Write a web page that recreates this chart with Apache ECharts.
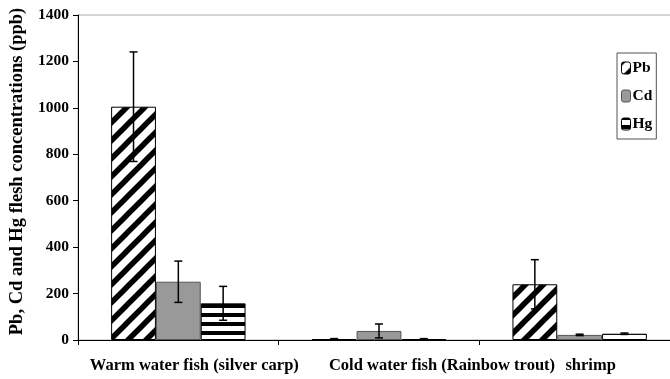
<!DOCTYPE html>
<html>
<head>
<meta charset="utf-8">
<script src="https://cdn.jsdelivr.net/npm/echarts@6/dist/echarts.min.js"></script>
<style>html,body{margin:0;padding:0;background:#fff}#c{width:670px;height:379px}</style>
</head>
<body>
<div id="c"></div>
<script>
var categories = ['Warm water fish (silver carp)', 'Cold water fish (Rainbow trout)', 'shrimp'];
var seriesNames = ['Pb', 'Cd', 'Hg'];
var pbValues = [1005, 4, 240];
var cdValues = [251, 39, 22];
var hgValues = [158, 4, 27];
var pbErrors = [236, 2, 106];
var cdErrors = [89, 30, 3];
var hgErrors = [73, 2, 3];
var yTicks = [0, 200, 400, 600, 800, 1000, 1200, 1400];

var FONT = 'Liberation Serif';

function diagPattern() {
  var s = 18, c = document.createElement('canvas');
  c.width = s; c.height = s;
  var g = c.getContext('2d');
  g.fillStyle = '#fff'; g.fillRect(0, 0, s, s);
  g.strokeStyle = '#000'; g.lineWidth = 5.5;
  for (var k = -1; k <= 1; k++) {
    g.beginPath(); g.moveTo(k * s - s, 2 * s); g.lineTo(k * s + 2 * s, -s); g.stroke();
  }
  return c;
}
function horizPattern() {
  var c = document.createElement('canvas');
  c.width = 4; c.height = 9;
  var g = c.getContext('2d');
  g.fillStyle = '#fff'; g.fillRect(0, 0, 4, 9);
  g.fillStyle = '#000'; g.fillRect(0, 0, 4, 2); g.fillRect(0, 7, 4, 2);
  return c;
}

var values = [pbValues, cdValues, hgValues];
var errors = [pbErrors, cdErrors, hgErrors];
var fills = [
  { image: diagPattern(), repeat: 'repeat' },
  '#999999',
  { image: horizPattern(), repeat: 'repeat' }
];
var borders = ['#000', '#555', '#000'];

var GAP = 0.33;
var series = [];
seriesNames.forEach(function (name, i) {
  series.push({
    name: name,
    type: 'bar',
    data: values[i],
    barGap: '0%',
    barCategoryGap: (GAP * 100) + '%',
    itemStyle: { color: fills[i], borderColor: borders[i], borderWidth: 1 },
    z: 2
  });
});
seriesNames.forEach(function (name, i) {
  series.push({
    type: 'custom',
    name: name + ' error',
    z: 5,
    silent: true,
    data: values[i].map(function (v, j) { return [j, v, errors[i][j]]; }),
    renderItem: function (params, api) {
      var cat = api.value(0), mean = api.value(1), err = api.value(2);
      var band = api.size([1, 0])[0];
      var barW = band * (1 - GAP) / 3;
      var c = api.coord([cat, mean]);
      var x = c[0] + (i - 1) * barW;
      var top = api.coord([cat, mean + err])[1];
      var bot = api.coord([cat, Math.max(0, mean - err)])[1];
      var cap = 4;
      var st = { stroke: '#000', lineWidth: 1.5 };
      return {
        type: 'group',
        children: [
          { type: 'line', shape: { x1: x, y1: top, x2: x, y2: bot }, style: st },
          { type: 'line', shape: { x1: x - cap, y1: top, x2: x + cap, y2: top }, style: st },
          { type: 'line', shape: { x1: x - cap, y1: bot, x2: x + cap, y2: bot }, style: st }
        ]
      };
    }
  });
});

var labelShift = [32, 126, 22];
var chart = echarts.init(document.getElementById('c'), null, { renderer: 'canvas' });
chart.setOption({
  animation: false,
  backgroundColor: '#fff',
  grid: { left: 78, top: 15, right: -10, bottom: 39, outerBoundsMode: 'none', containLabel: false, show: true, borderColor: '#aaa', borderWidth: 1, backgroundColor: 'transparent' },
  legend: {
    data: seriesNames,
    orient: 'vertical',
    left: 617, top: 53,
    borderColor: '#555', borderWidth: 1,
    padding: [7, 4, 7, 4],
    itemGap: 12,
    itemWidth: 9, itemHeight: 12,
    itemStyle: { borderWidth: 1 },
    textStyle: { fontFamily: FONT, fontWeight: 'bold', fontSize: 15.5, color: '#000', padding: [0, 0, 0, -3] }
  },
  xAxis: {
    type: 'category',
    data: categories.map(function (c, i) {
      return { value: c, textStyle: { padding: [0, 0, 0, labelShift[i]] } };
    }),
    axisLine: { lineStyle: { color: '#000', width: 1 } },
    axisTick: { show: true, length: 5, inside: false, lineStyle: { color: '#000' } },
    axisLabel: { interval: 0, margin: 17, fontFamily: FONT, fontWeight: 'bold', fontSize: 16.5, color: '#000' },
    splitLine: { show: false }
  },
  yAxis: {
    type: 'value',
    min: yTicks[0], max: yTicks[yTicks.length - 1], interval: 200,
    name: 'Pb, Cd and Hg flesh concentrations (ppb)',
    nameLocation: 'middle', nameGap: 41,
    nameTextStyle: { fontFamily: FONT, fontWeight: 'bold', fontSize: 18.5, color: '#000', padding: [0, 0, 0, 12] },
    axisLine: { show: true, lineStyle: { color: '#000', width: 1 } },
    axisTick: { show: true, length: 5, lineStyle: { color: '#000' } },
    axisLabel: { margin: 9, fontFamily: FONT, fontWeight: 'bold', fontSize: 15.5, color: '#000', formatter: function (v) { return String(v); } },
    splitLine: { show: false }
  },
  series: series
});
</script>
</body>
</html>
